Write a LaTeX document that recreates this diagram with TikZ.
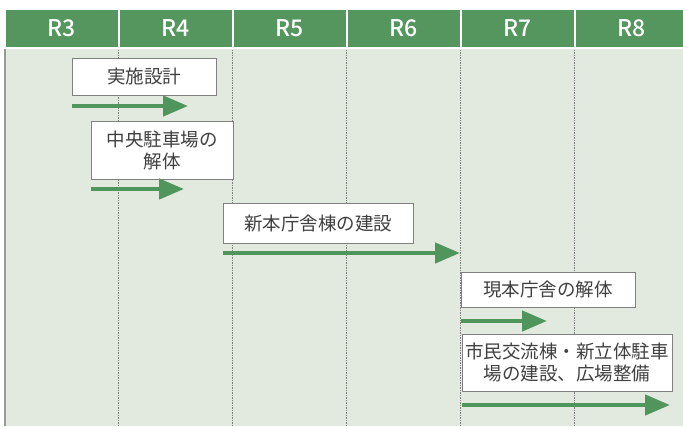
\documentclass[tikz,border=0pt]{standalone}
\usepackage{fontspec}
\setmainfont{Noto Sans CJK JP}[BoldFont={Noto Sans CJK JP Medium}]
\usetikzlibrary{arrows.meta}
\definecolor{hdrgreen}{RGB}{84,150,94}
\definecolor{bargreen}{RGB}{80,150,92}
\definecolor{bggreen}{RGB}{226,233,223}
\definecolor{boxtext}{RGB}{64,64,64}
\begin{document}
\begin{tikzpicture}[x=1pt, y=-1pt,
  yearcell/.style={fill=hdrgreen, draw=white, line width=1.5pt, minimum width=114pt,
    minimum height=39pt, anchor=north west, text=white, inner sep=0pt,
    font=\fontsize{23}{25}\selectfont\bfseries},
  taskbox/.style={draw=gray, fill=white, anchor=north west, inner sep=0pt, align=center,
    text=boxtext, font=\fontsize{18.5}{22}\selectfont},
  bar/.style={draw=bargreen, line width=4.5pt, -{Triangle[length=25pt,width=20pt]}},
  yearline/.style={draw=gray, line width=1pt, dash pattern=on 1.5pt off 1pt}]
\useasboundingbox (0,0) rectangle (683,426);

% background and left border
\fill[bggreen] (5,48) rectangle (683,426);
\draw[gray!80, line width=2pt] (5,48) -- (5,426);

% year columns
\foreach \yr [count=\i from 0] in {R3,R4,R5,R6,R7,R8} {
  \node[yearcell] (h\i) at (4+114*\i,8) {\yr};
}
\foreach \i in {1,...,5} {
  \draw[yearline] (h\i.south west) ++(0,1) -- ++(0,378);
}

% tasks
\node[taskbox, minimum width=144pt, minimum height=37pt] (b1) at (72,58) {実施設計};
\node[taskbox, minimum width=142pt, minimum height=58pt] (b2) at (91,121) {中央駐車場の\\解体};
\node[taskbox, minimum width=190pt, minimum height=40pt] (b3) at (223,203) {新本庁舎棟の建設};
\node[taskbox, minimum width=174pt, minimum height=35pt] (b4) at (461,272) {現本庁舎の解体};
\node[taskbox, minimum width=210pt, minimum height=57pt] (b5) at (462,334) {市民交流棟・新立体駐車\\場の建設、広場整備};

% schedule bars
\coordinate (e1) at (188,106);
\coordinate (e2) at (184,189);
\coordinate (e3) at (460,253);
\coordinate (e4) at (547,321);
\coordinate (e5) at (670,405);
\foreach \i in {1,...,5} {
  \draw[bar] (b\i.south west |- e\i) -- (e\i);
}

\end{tikzpicture}
\end{document}
